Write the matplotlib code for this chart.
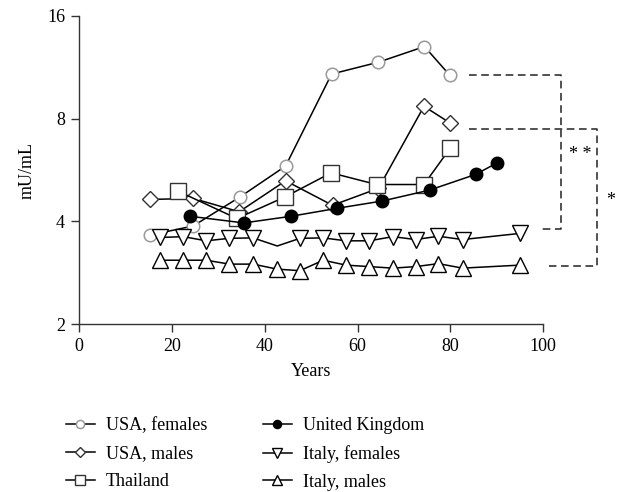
import matplotlib.pyplot as plt
from matplotlib.ticker import FixedLocator, NullLocator, FixedFormatter

plt.rcParams['font.family'] = ['Liberation Serif', 'DejaVu Serif']

# Data (age in years, titre in mU/mL)
usa_f_x = [15.4, 24.6, 34.7, 44.5, 54.4, 64.5, 74.4, 79.9]
usa_f_y = [3.65, 3.88, 4.72, 5.81, 10.8, 11.7, 13.0, 10.7]

usa_m_x = [15.4, 24.6, 34.5, 44.5, 54.6, 64.5, 74.3, 79.9]
usa_m_y = [4.64, 4.67, 4.27, 5.26, 4.46, 5.00, 8.69, 7.77]

thai_x = [21.4, 34.0, 44.4, 54.3, 64.1, 74.3, 79.9]
thai_y = [4.90, 4.08, 4.72, 5.55, 5.13, 5.13, 6.54]

uk_x = [24.0, 35.5, 45.6, 55.6, 65.3, 75.5, 85.4, 90.0]
uk_y = [4.14, 3.96, 4.14, 4.37, 4.59, 4.94, 5.49, 5.93]

italy_x = [17.4, 22.5, 27.4, 32.4, 37.5, 42.7, 47.6, 52.6, 57.5, 62.5, 67.6, 72.5, 77.4, 82.6, 95.0]
italy_f_y = [3.59, 3.61, 3.51, 3.57, 3.58, 3.39, 3.57, 3.58, 3.51, 3.51, 3.61, 3.54, 3.62, 3.54, 3.69]
italy_m_y = [3.08, 3.08, 3.08, 3.00, 3.00, 2.90, 2.87, 3.08, 2.98, 2.95, 2.92, 2.95, 3.01, 2.92, 2.98]

y_ticks = [2, 4, 8, 16]
x_ticks = [0, 20, 40, 60, 80, 100]

fig = plt.figure(figsize=(6.2, 4.92), dpi=100)
ax = fig.add_axes([0.1274, 0.3409, 0.7489, 0.6271])

lw = 1.1
ax.plot(usa_f_x, usa_f_y, '-', color='black', lw=lw, marker='o', ms=9,
        mfc='white', mec='#999999', mew=1.1, label='USA, females')
ax.plot(usa_m_x, usa_m_y, '-', color='black', lw=lw, marker='D', ms=8,
        mfc='white', mec='#333333', mew=1.0, label='USA, males')
ax.plot(thai_x, thai_y, '-', color='black', lw=lw, marker='s', ms=11,
        mfc='white', mec='#333333', mew=1.0, label='Thailand')
ax.plot(uk_x, uk_y, '-', color='black', lw=lw, marker='o', ms=9,
        mfc='black', mec='black', label='United Kingdom')
# no marker at the 42.5-year point for Italian females
f_marks = [i for i in range(len(italy_x)) if i != 5]
ax.plot(italy_x, italy_f_y, '-', color='black', lw=lw, marker='v', ms=11,
        mfc='white', mec='black', mew=1.0, markevery=f_marks, label='Italy, females')
ax.plot(italy_x, italy_m_y, '-', color='black', lw=lw, marker='^', ms=11,
        mfc='white', mec='black', mew=1.0, label='Italy, males')

ax.set_yscale('log', base=2)
ax.set_ylim(2, 16)
ax.set_xlim(0, 100)
ax.yaxis.set_major_locator(FixedLocator(y_ticks))
ax.yaxis.set_major_formatter(FixedFormatter([str(v) for v in y_ticks]))
ax.yaxis.set_minor_locator(NullLocator())
ax.set_xticks(x_ticks)

for s in ['top', 'right']:
    ax.spines[s].set_visible(False)
for s in ['left', 'bottom']:
    ax.spines[s].set_color('#333333')
    ax.spines[s].set_linewidth(1.0)
ax.tick_params(direction='out', length=6, width=1.0, color='#333333',
               labelsize=13, pad=4)

ax.set_xlabel('Years', fontsize=13, labelpad=6)
ax.set_ylabel('mU/mL', fontsize=13, labelpad=8)

# significance brackets
dash = dict(color='#222222', lw=1.1, ls=(0, (5, 3)), clip_on=False)
ax.plot([84, 103.8, 103.8, 99.1], [10.7, 10.7, 3.80, 3.80], **dash)
ax.plot([84, 111.5, 111.5, 101.2], [7.48, 7.48, 2.96, 2.96], **dash)
ax.text(107.9, 6.3, '* *', fontsize=13, ha='center', va='center', clip_on=False)
ax.text(114.5, 4.6, '*', fontsize=13, ha='center', va='center', clip_on=False)

fig.legend(loc='upper left', bbox_to_anchor=(0.08, 0.185), ncol=2, frameon=False,
           fontsize=13, markerscale=0.65, handlelength=1.6, handletextpad=0.6,
           columnspacing=3.1, labelspacing=0.6)

fig.savefig('out.png', dpi=100)
